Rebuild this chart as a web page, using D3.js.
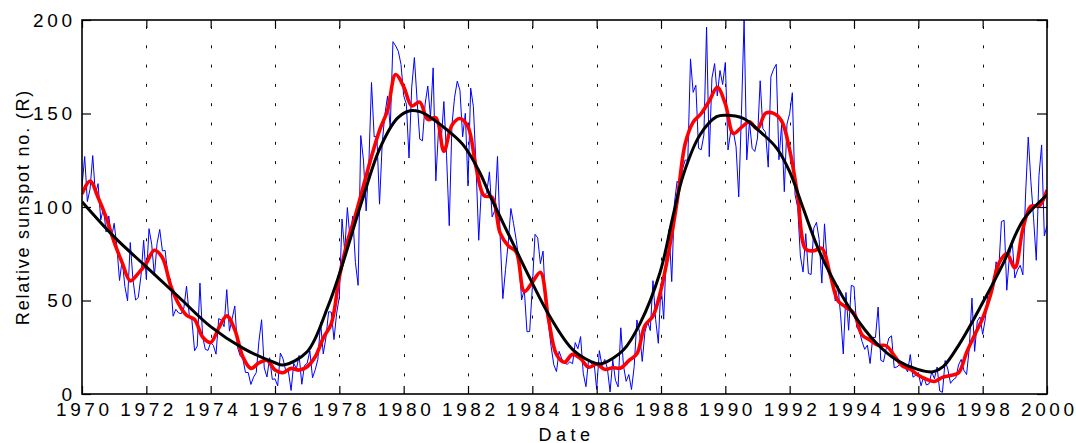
<!DOCTYPE html>
<html>
<head>
<meta charset="utf-8">
<script src="https://cdn.jsdelivr.net/npm/d3@7"></script>
<style>
  html, body { margin: 0; padding: 0; background: #fff; }
  svg { display: block; font-family: "Liberation Sans", Arial, sans-serif; }
</style>
</head>
<body>
<svg id="chart" width="1076" height="443"></svg>
<script>
// Monthly mean relative sunspot number, one value per month (Jan..Dec)
const monthly1970s = [
  111.0,127.0,102.9,109.5,127.5,106.8,112.5,93.0,99.5,86.6,95.2,83.5,
  91.3,79.0,60.7,71.8,57.5,49.8,81.0,61.4,50.2,51.7,63.2,82.2,
  61.5,88.4,80.1,63.2,80.5,88.0,76.5,76.8,64.0,61.3,41.6,45.3,
  43.4,42.9,46.0,57.7,42.4,39.5,23.1,25.6,59.3,30.7,23.9,23.3,
  27.6,26.0,21.3,40.3,39.5,36.0,55.8,33.6,40.2,47.1,25.0,20.5,
  18.9,11.5,11.5,5.1,9.0,11.4,28.2,39.7,13.9,9.1,19.4,7.8,
  8.1,4.3,21.9,18.8,12.4,12.2,1.9,16.4,13.5,20.6,5.2,15.3,
  16.4,23.1,8.7,12.9,18.6,38.5,21.4,30.1,44.0,43.8,29.1,43.2,
  51.9,93.6,76.5,99.7,82.7,95.1,70.4,58.1,138.2,125.1,97.9,122.7,
  166.6,137.5,138.0,101.5,134.4,149.5,159.4,142.2,188.4,186.2,183.3,176.3
];
const monthly1980s = [
  159.6,155.0,126.2,164.1,179.9,157.3,136.3,135.4,155.0,164.7,147.9,174.4,
  114.0,141.3,135.5,156.4,127.5,90.0,143.8,158.7,167.3,162.4,137.5,150.1,
  111.2,163.6,153.8,122.0,82.2,110.4,106.1,107.6,118.8,94.7,98.1,127.0,
  84.3,51.0,66.5,80.7,99.2,91.1,82.2,71.8,50.3,55.8,33.3,33.4,
  57.0,85.4,83.5,69.7,76.4,46.1,37.4,25.5,15.7,12.0,22.8,18.7,
  16.5,15.9,17.2,16.2,27.5,24.2,30.7,11.1,3.9,18.6,16.2,17.3,
  2.5,23.2,15.1,18.5,13.7,1.1,18.1,7.4,3.8,35.4,15.2,6.8,
  10.4,2.4,14.7,39.6,33.0,17.4,33.0,38.7,33.9,60.6,39.9,27.1,
  59.0,40.0,76.2,88.0,60.1,101.8,113.8,111.6,120.1,125.1,125.1,179.2,
  161.3,165.1,131.4,130.6,138.5,196.2,126.9,168.9,176.7,159.4,173.0,165.5
];
const monthly1990s = [
  177.3,130.5,140.3,140.3,132.2,105.4,149.4,200.3,125.2,145.5,131.4,129.7,
  136.9,167.5,141.9,140.0,121.3,169.7,173.7,176.3,125.3,144.1,108.2,144.4,
  150.0,161.1,106.7,99.8,73.8,65.2,85.7,64.5,63.9,88.7,91.8,82.6,
  59.3,91.0,69.8,62.2,61.3,49.8,57.9,42.3,21.4,54.3,34.1,58.1,
  57.5,35.8,33.7,28.1,23.9,26.1,16.3,30.3,30.2,46.5,18.0,17.2,
  24.2,29.9,31.1,14.0,14.5,15.6,14.5,14.3,11.8,21.1,9.0,10.0,
  11.5,4.4,9.2,4.8,5.5,11.8,8.2,14.4,1.6,0.9,17.9,13.3,
  5.7,7.6,8.7,15.5,18.5,12.7,10.4,24.4,51.3,22.8,39.0,41.2,
  31.9,40.3,54.8,53.4,56.3,70.7,66.6,92.2,92.9,55.5,74.0,81.9,
  62.0,66.3,68.8,63.7,106.4,137.4,113.5,93.7,71.5,116.7,133.2,84.6,
  90.1
];

// Smoothed sunspot number, one value per quarter (Jan, Apr, Jul, Oct), 1970.0 .. 2000.0
const smoothedQuarterly = [
  107, 113.9, 105.1, 94.5,
  81.2, 70.2, 60.5, 64.5,
  70.0, 76.9, 72.9, 58.4,
  48.3, 42.1, 39.8, 30.5,
  27.6, 35.2, 41.8, 34.4,
  19.9, 13.7, 16.6, 18.0,
  12.8, 11.4, 13.7, 12.8,
  14.6, 19.9, 29.9, 37.6,
  62.5, 81.4, 95.6, 111.3,
  127.0, 141.0, 151.7, 170.8,
  164.4, 154.1, 156.1, 146.8,
  147.7, 129.8, 143.7, 147.3,
  142.9, 121.3, 106.0, 105.2,
  86.0, 79.3, 75.9, 54.8,
  59.7, 65.1, 40.4, 21.2,
  17.0, 21.2, 18.9, 14.3,
  15.9, 13.2, 14.0, 13.9,
  17.8, 21.5, 36.6, 41.7,
  55.8, 77.0, 102.9, 133.7,
  145.4, 150.0, 156.7, 164.0,
  155.2, 139.3, 142.6, 145.5,
  141.8, 150.1, 150.1, 146.0,
  130.6, 106.0, 77.4, 76.6,
  77.9, 64.5, 49.9, 46.5,
  43.1, 31.6, 28.8, 26.1,
  25.8, 20.5, 15.1, 13.2,
  10.0, 7.9, 6.7, 8.9,
  9.9, 11.3, 22.2, 31.6,
  40.5, 53.4, 69.7, 75.0,
  67.5, 88.3, 100.4, 100.5,
  109
];

// Long-term cycle curve (decimal year, value)
const trendDates = [
  1970.0, 1971.0, 1972.0, 1973.0, 1974.0, 1975.0, 1976.0, 1976.25, 1977.0, 1977.65,
  1978.0, 1978.7, 1979.25, 1979.8, 1980.2, 1980.5, 1980.8, 1981.35, 1981.85, 1982.35,
  1982.7, 1983.3, 1983.95, 1984.55, 1985.27, 1985.97, 1986.2, 1986.83, 1987.35, 1987.97,
  1988.38, 1988.69, 1989.21, 1989.73, 1990.0, 1990.56, 1991.08, 1991.6, 1992.0, 1992.42,
  1992.84, 1993.25, 1993.97, 1994.7, 1995.32, 1995.98, 1996.46, 1996.77, 1997.29, 1997.99,
  1998.64, 1999.26, 2000.0
];
const trendValues = [
  102.8, 84, 68, 52, 36, 24.5, 16.7, 15.5, 22.6, 47,
  64, 103, 131, 147.4, 151.5, 151, 148.3, 141.2, 133.2, 119,
  105.5, 84, 61, 41.3, 23.5, 16.4, 16.4, 23.5, 37.8, 65,
  95.7, 117, 138.5, 148.3, 149.1, 147.4, 140.3, 131.4, 118.9, 99.3,
  79.7, 64.5, 43.1, 27.1, 18.2, 13.2, 11.9, 14.6, 27.1, 48.5,
  69.9, 93, 106.4
];

const xTickValues = [1970, 1972, 1974, 1976, 1978, 1980, 1982, 1984, 1986, 1988,
                     1990, 1992, 1994, 1996, 1998, 2000];
const yTickValues = [0, 50, 100, 150, 200];
const xTitle = "Date";
const yTitle = "Relative sunspot no. (R)";

// ---- layout ----
const plot = { left: 82, right: 1047, top: 20, bottom: 394 };
const svg = d3.select("#chart");

const x = d3.scaleLinear().domain([1970, 2000]).range([plot.left, plot.right]);
const y = d3.scaleLinear().domain([0, 200]).range([plot.bottom, plot.top]);

const monthly = monthly1970s.concat(monthly1980s, monthly1990s)
  .map((v, i) => ({ t: 1970 + i / 12, v }));
const smoothed = smoothedQuarterly.map((v, i) => ({ t: 1970 + i / 4, v }));
const trend = trendDates.map((t, i) => ({ t, v: trendValues[i] }));

svg.append("defs").append("clipPath").attr("id", "plotClip")
  .append("rect")
  .attr("x", plot.left).attr("y", plot.top)
  .attr("width", plot.right - plot.left).attr("height", plot.bottom - plot.top);

// dotted vertical grid lines at the year ticks
svg.append("g").selectAll("line")
  .data(xTickValues.slice(1, -1))
  .join("line")
  .attr("x1", d => Math.round(x(d)) + 0.5).attr("x2", d => Math.round(x(d)) + 0.5)
  .attr("y1", plot.top + 6).attr("y2", plot.bottom)
  .attr("stroke", "#111").attr("stroke-width", 1)
  .attr("stroke-dasharray", "3 16.3");

const lines = svg.append("g").attr("clip-path", "url(#plotClip)");
const lineGen = curve => d3.line().x(d => x(d.t)).y(d => y(d.v)).curve(curve);

lines.append("path").datum(monthly)
  .attr("d", lineGen(d3.curveLinear))
  .attr("fill", "none").attr("stroke", "#0000ff").attr("stroke-width", 1);

lines.append("path").datum(smoothed)
  .attr("d", lineGen(d3.curveCatmullRom.alpha(0.5)))
  .attr("fill", "none").attr("stroke", "#ff0000").attr("stroke-width", 3.6)
  .attr("stroke-linejoin", "round");

lines.append("path").datum(trend)
  .attr("d", lineGen(d3.curveCatmullRom.alpha(0.5)))
  .attr("fill", "none").attr("stroke", "#000").attr("stroke-width", 3)
  .attr("stroke-linejoin", "round");

// ---- axes with inward ticks on all four sides ----
const labelSize = "19px";
const labelSpacing = 3.6;

const gx = svg.append("g").attr("transform", `translate(0,${plot.bottom})`)
  .call(d3.axisBottom(x).tickValues(xTickValues).tickFormat(d3.format("d"))
    .tickSizeInner(-8).tickSizeOuter(0).tickPadding(9));
gx.select(".domain").remove();
gx.selectAll("text").attr("font-size", labelSize).attr("font-family", "Liberation Sans, Arial, sans-serif")
  .attr("fill", "#000").attr("letter-spacing", labelSpacing).attr("dx", labelSpacing / 2);

const gxTop = svg.append("g").attr("transform", `translate(0,${plot.top})`)
  .call(d3.axisTop(x).tickValues(xTickValues).tickFormat("")
    .tickSizeInner(-8).tickSizeOuter(0));
gxTop.select(".domain").remove();

const gy = svg.append("g").attr("transform", `translate(${plot.left},0)`)
  .call(d3.axisLeft(y).tickValues(yTickValues).tickFormat(d3.format("d"))
    .tickSizeInner(-9).tickSizeOuter(0).tickPadding(10 - labelSpacing));
gy.select(".domain").remove();
gy.selectAll("text").attr("font-size", labelSize).attr("font-family", "Liberation Sans, Arial, sans-serif")
  .attr("fill", "#000").attr("letter-spacing", labelSpacing);

const gyRight = svg.append("g").attr("transform", `translate(${plot.right},0)`)
  .call(d3.axisRight(y).tickValues(yTickValues).tickFormat("")
    .tickSizeInner(-10).tickSizeOuter(0));
gyRight.select(".domain").remove();

svg.selectAll(".tick line").attr("stroke", "#000").attr("stroke-width", 1.2);

// frame
svg.append("rect")
  .attr("x", plot.left).attr("y", plot.top)
  .attr("width", plot.right - plot.left).attr("height", plot.bottom - plot.top)
  .attr("fill", "none").attr("stroke", "#000").attr("stroke-width", 1.6);

// axis titles
svg.append("text")
  .attr("x", (plot.left + plot.right) / 2 + 2).attr("y", 441)
  .attr("text-anchor", "middle")
  .attr("font-size", "18px").attr("letter-spacing", 4.5)
  .text(xTitle);

svg.append("text")
  .attr("transform", `translate(29,${(plot.top + plot.bottom) / 2}) rotate(-90)`)
  .attr("text-anchor", "middle")
  .attr("font-size", "18px").attr("letter-spacing", 1.8)
  .text(yTitle);
</script>
</body>
</html>
